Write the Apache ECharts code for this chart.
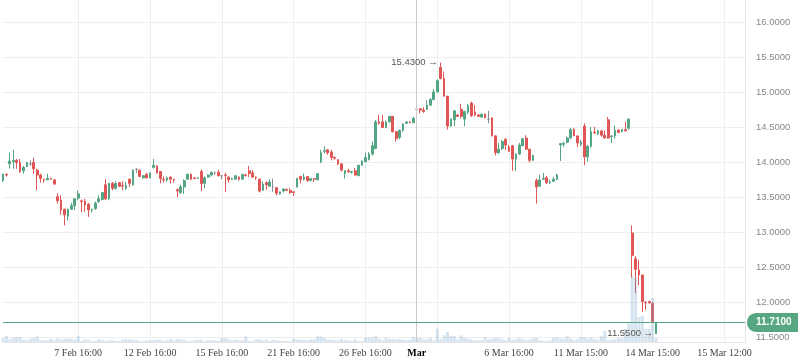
<!DOCTYPE html>
<html><head><meta charset="utf-8">
<script src="https://cdn.jsdelivr.net/npm/echarts@6/dist/echarts.min.js"></script>
<style>html,body{margin:0;padding:0;background:#fff}#c{width:798px;height:363px}</style>
</head><body><div id="c"></div>
<script>
// ---- data (hourly bars) ----
const opens = [13.74,13.83,13.98,14.01,14.03,14.00,13.88,13.94,13.98,14.00,13.89,13.82,13.76,13.75,13.77,13.75,13.51,13.46,13.33,13.23,13.33,13.38,13.49,13.45,13.44,13.40,13.32,13.34,13.44,13.47,13.68,13.48,13.70,13.63,13.71,13.67,13.63,13.76,13.68,13.90,13.89,13.78,13.83,13.78,13.93,13.95,13.87,13.76,13.75,13.79,13.76,13.61,13.57,13.65,13.76,13.83,13.78,13.77,
13.87,13.70,13.79,13.82,13.85,13.86,13.81,13.82,13.79,13.76,13.76,13.79,13.76,13.82,13.88,13.85,13.79,13.76,13.60,13.71,13.66,13.65,13.64,13.55,13.59,13.61,13.60,13.58,13.65,13.80,13.76,13.80,13.74,13.77,13.75,14.01,14.16,14.18,14.15,14.07,14.04,13.98,13.84,13.88,13.86,13.88,13.81,13.96,14.01,14.04,14.12,
14.20,14.58,14.58,14.50,14.58,14.66,14.44,14.36,14.46,14.56,14.58,14.57,14.76,14.77,14.75,14.76,14.82,14.90,15.01,15.36,15.20,14.95,14.52,14.61,14.68,14.76,14.62,14.72,14.85,14.72,14.68,
14.65,14.69,14.62,14.64,14.38,14.14,14.20,14.33,14.22,14.24,14.05,14.12,14.24,14.35,14.19,14.03,13.74,13.66,13.76,13.78,13.71,13.73,13.76,14.25,14.26,14.29,14.35,14.47,14.38,14.26,14.52,14.08,14.23,14.43,14.41,14.45,14.39,14.61,14.37,14.38,14.46,14.44,14.47,14.49,
12.99,12.62,12.46,12.39,12.00,12.01,11.98,11.55];
const closes = [13.83,13.82,14.02,14.03,14.00,13.87,13.93,14.00,13.98,13.91,13.82,13.77,13.75,13.77,13.76,13.69,13.45,13.32,13.25,13.33,13.38,13.48,13.55,13.44,13.39,13.32,13.33,13.42,13.48,13.57,13.48,13.70,13.63,13.70,13.66,13.66,13.67,13.70,13.89,13.90,13.80,13.81,13.78,13.85,13.96,13.85,13.77,13.75,13.78,13.76,13.75,13.59,13.65,13.74,13.83,13.76,13.77,13.78,
13.70,13.78,13.82,13.86,13.85,13.81,13.81,13.81,13.75,13.77,13.81,13.76,13.83,13.81,13.84,13.79,13.78,13.59,13.69,13.68,13.72,13.65,13.56,13.58,13.62,13.60,13.57,13.57,13.77,13.76,13.79,13.74,13.77,13.76,13.84,14.14,14.17,14.14,14.07,14.06,13.98,13.89,13.88,13.87,13.87,13.82,13.96,14.02,14.07,14.12,14.24,
14.58,14.56,14.50,14.58,14.66,14.44,14.34,14.46,14.55,14.58,14.57,14.63,14.76,14.75,14.73,14.82,14.90,15.01,15.17,15.20,14.95,14.52,14.62,14.74,14.66,14.66,14.73,14.81,14.67,14.68,14.66,
14.69,14.64,14.62,14.38,14.14,14.19,14.30,14.25,14.16,14.05,14.12,14.25,14.34,14.19,14.03,14.10,13.65,13.75,13.77,13.71,13.72,13.76,13.82,14.27,14.27,14.35,14.47,14.38,14.28,14.29,14.08,14.23,14.44,14.42,14.45,14.39,14.35,14.35,14.38,14.46,14.43,14.47,14.45,14.62,
12.67,12.47,12.39,12.01,11.99,11.99,11.72,11.71];
const lows = [13.72,13.80,13.91,13.91,13.91,13.85,13.84,13.94,13.95,13.84,13.60,13.71,13.71,13.75,13.75,13.68,13.41,13.25,13.10,13.17,13.32,13.32,13.46,13.29,13.29,13.22,13.28,13.32,13.42,13.46,13.46,13.46,13.60,13.61,13.65,13.60,13.61,13.65,13.67,13.85,13.79,13.77,13.77,13.77,13.91,13.84,13.70,13.71,13.72,13.70,13.71,13.50,13.55,13.55,13.75,13.75,13.76,13.76,
13.59,13.63,13.78,13.80,13.82,13.80,13.76,13.58,13.71,13.75,13.75,13.74,13.76,13.80,13.79,13.78,13.75,13.57,13.60,13.61,13.65,13.58,13.53,13.54,13.57,13.59,13.55,13.52,13.64,13.70,13.74,13.72,13.73,13.72,13.75,13.99,14.13,14.11,14.03,14.04,13.96,13.87,13.77,13.85,13.84,13.81,13.81,13.95,14.00,14.03,14.10,
14.19,14.54,14.49,14.49,14.57,14.43,14.30,14.33,14.44,14.55,14.56,14.56,14.73,14.70,14.71,14.75,14.81,14.89,15.00,15.19,14.94,14.47,14.51,14.52,14.65,14.63,14.52,14.69,14.65,14.66,14.65,
14.64,14.63,14.56,14.37,14.10,14.12,14.18,14.18,14.15,13.88,13.88,14.11,14.23,14.18,14.00,14.02,13.41,13.65,13.75,13.69,13.69,13.72,13.75,14.02,14.22,14.27,14.34,14.38,14.22,14.23,13.96,14.01,14.21,14.41,14.39,14.37,14.34,14.34,14.28,14.34,14.42,14.43,14.45,14.47,
12.35,12.13,12.24,11.86,11.89,11.98,11.72,11.55];
const highs = [13.84,13.84,14.14,14.18,14.05,14.05,13.95,14.00,14.03,14.07,13.91,13.84,13.77,13.84,13.78,13.76,13.56,13.53,13.34,13.34,13.42,13.48,13.60,13.47,13.48,13.42,13.34,13.44,13.53,13.58,13.76,13.71,13.72,13.73,13.72,13.73,13.72,13.77,13.90,13.92,13.90,13.82,13.85,13.86,14.05,13.96,13.87,13.80,13.80,13.80,13.76,13.63,13.68,13.76,13.84,13.84,13.78,13.78,
13.90,13.80,13.83,13.87,13.87,13.89,13.82,13.85,13.80,13.78,13.81,13.80,13.83,13.84,13.95,13.89,13.80,13.77,13.73,13.73,13.76,13.77,13.64,13.58,13.63,13.63,13.63,13.58,13.78,13.80,13.84,13.80,13.77,13.77,13.84,14.18,14.23,14.19,14.18,14.09,14.05,13.99,13.89,13.91,13.87,13.92,13.96,14.03,14.14,14.15,14.30,
14.61,14.68,14.68,14.60,14.66,14.66,14.45,14.47,14.56,14.59,14.59,14.65,14.99,14.77,14.79,14.89,14.92,15.05,15.19,15.43,15.30,14.95,14.63,14.75,14.69,14.84,14.74,14.84,14.87,14.82,14.69,
14.70,14.70,14.74,14.64,14.39,14.28,14.32,14.35,14.25,14.25,14.13,14.28,14.35,14.39,14.19,14.11,13.77,13.82,13.85,13.81,13.75,13.79,13.84,14.27,14.30,14.37,14.49,14.49,14.39,14.32,14.56,14.25,14.51,14.51,14.47,14.47,14.46,14.65,14.39,14.53,14.48,14.48,14.58,14.63,
13.10,12.66,12.60,12.39,12.01,12.02,12.00,11.71];
const volumes = [43,60,27,40,50,50,23,17,33,40,57,20,17,17,33,17,37,27,33,33,30,23,60,10,27,23,10,10,27,20,10,17,17,10,10,27,27,27,23,23,10,7,17,17,17,23,23,10,17,27,17,27,27,23,10,7,17,23,
23,7,23,17,17,10,40,40,27,17,23,17,17,57,10,10,27,27,17,23,10,23,17,10,10,7,7,33,27,23,23,17,27,27,57,57,40,23,23,17,17,33,17,17,10,27,10,10,43,43,43,
60,33,17,40,30,30,27,27,23,17,23,50,40,40,27,27,40,17,133,27,67,100,60,57,27,67,40,33,27,17,17,
17,50,27,33,40,40,27,17,40,23,27,40,27,17,23,40,40,17,10,10,17,43,50,33,33,57,33,17,27,50,50,33,50,27,23,57,110,20,27,27,37,37,130,190,
660,640,250,260,130,130,440,40];

// ---- axis ticks ----
const slotCount = 218;
const tickIndex  = [22, 43, 64, 85, 106, 121, 148, 169, 190, 211];
const tickLabels = ['7 Feb 16:00','12 Feb 16:00','15 Feb 16:00','21 Feb 16:00','26 Feb 16:00','Mar','6 Mar 16:00','11 Mar 15:00','14 Mar 15:00','15 Mar 12:00'];
const gridIndex  = [22, 43, 64, 85, 106, 127, 148, 169, 190, 211];
const monthIndex = 121;
const yTicks = [11.5,12,12.5,13,13.5,14,14.5,15,15.5,16];
const yMin = 11.43, yMax = 16.325;
const volMax = 3420;

const UP = '#53a583', DOWN = '#e05555', DOJI = '#8c8c8c', LAST = '#57a882';

const categories = Array.from({length: slotCount}, (_, i) => String(i));
const candles = opens.map((o, i) => [o, closes[i], lows[i], highs[i]]);
const lastClose = closes[closes.length - 1];

const chart = echarts.init(document.getElementById('c'), null, {renderer: 'canvas'});
chart.setOption({
  animation: false,
  backgroundColor: '#ffffff',
  grid: {left: 3, right: 53, top: 0, bottom: 21, containLabel: false},
  xAxis: {
    type: 'category', data: categories, boundaryGap: false,
    axisLine: {show: true, lineStyle: {color: '#e3e5e8'}},
    axisTick: {show: false},
    axisLabel: {
      interval: (idx) => tickIndex.includes(idx),
      formatter: (v, idx) => {
        const k = tickIndex.indexOf(idx);
        if (k < 0) return '';
        return idx === monthIndex ? '{m|' + tickLabels[k] + '}' : tickLabels[k];
      },
      color: '#444', fontSize: 10, fontFamily: 'Liberation Serif', margin: 6,
      rich: {m: {fontWeight: 'bold', color: '#000', fontSize: 10, fontFamily: 'Liberation Serif'}}
    },
    splitLine: {show: true, interval: (idx) => gridIndex.includes(idx), lineStyle: {color: '#eeeeee'}}
  },
  yAxis: [{
    type: 'value', position: 'right', min: yMin, max: yMax,
    axisLine: {show: true, lineStyle: {color: '#e3e5e8'}},
    axisTick: {show: false, customValues: yTicks},
    axisLabel: {customValues: yTicks, formatter: (v) => v.toFixed(4), color: '#888', fontSize: 9.5, fontFamily: 'Liberation Sans', margin: 11},
    splitLine: {show: true, lineStyle: {color: '#eeeeee'}}
  }, {
    type: 'value', min: 0, max: volMax, show: false, splitLine: {show: false}
  }],
  series: [{
    type: 'candlestick', data: candles, barWidth: 2.2, z: 2,
    itemStyle: {color: UP, color0: DOWN, borderColor: UP, borderColor0: DOWN, borderColorDoji: DOJI, borderWidth: 1},
    markPoint: {
      symbol: 'circle', symbolSize: 0, silent: true,
      data: [{type: 'max', valueDim: 'highest'}, {type: 'min', valueDim: 'lowest'}],
      label: {show: true, position: 'left', distance: 3, formatter: (p) => p.value.toFixed(4) + ' \u2192', color: '#555', fontSize: 9.5, fontFamily: 'Liberation Sans'}
    },
    markLine: {
      symbol: 'none', silent: true, animation: false,
      data: [
        {xAxis: monthIndex, lineStyle: {color: '#cccccc', width: 1, type: 'solid'}, label: {show: false}},
        {yAxis: lastClose, lineStyle: {color: LAST, width: 1, type: 'solid'},
         label: {show: true, position: 'end', distance: 2, formatter: () => lastClose.toFixed(4),
                 backgroundColor: LAST, color: '#fff', fontWeight: 'bold', fontSize: 10, fontFamily: 'Liberation Sans',
                 padding: [5, 10, 4, 9], borderRadius: [9, 0, 0, 9]}}
      ]
    }
  }, {
    type: 'bar', data: volumes, xAxisIndex: 0, yAxisIndex: 1, barWidth: 3, z: 3, silent: true,
    itemStyle: {color: 'rgba(118,165,202,0.3)'}
  }]
});
</script></body></html>
